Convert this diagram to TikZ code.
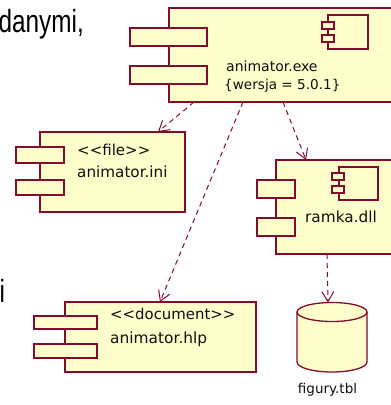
\documentclass[tikz,border=0pt]{standalone}
\usepackage{fontspec}
\setmainfont{DejaVu Sans}
\newfontfamily\arialfont{Liberation Sans}
\usetikzlibrary{arrows.meta}
\definecolor{umlline}{RGB}{130,12,45}
\definecolor{umlfill}{RGB}{255,255,204}
\definecolor{txt}{RGB}{15,15,15}
\tikzset{
  part/.style={draw=umlline, fill=umlfill, line width=1.3pt, rectangle,
    inner sep=0pt, outer sep=0pt, anchor=north west},
  lbl/.style={anchor=base west, inner sep=0pt, text=txt},
  slide/.style={anchor=base west, inner sep=0pt, text=black,
    font=\arialfont\fontsize{32}{36}\selectfont, xscale=0.76},
  dep/.style={draw=umlline, line width=1pt, dash pattern=on 5pt off 4pt,
    -{Straight Barb[length=10pt,width=12pt,line width=1pt]}},
}
\begin{document}
\begin{tikzpicture}[x=1pt,y=-1pt]
\useasboundingbox (0,0) rectangle (391,405);
\fill[white] (0,0) rectangle (391,405);

% surrounding slide text
\node[slide] (danymi) at (-1.5,32.7) {danymi,};
\node[slide] (ichar) at (-0.5,302) {i};

% animator.exe
\node[part, minimum width=240pt, minimum height=94pt] (exe) at (169,8) {};
\node[part, minimum width=77pt, minimum height=18pt] (exep1) at (130,28) {};
\node[part, minimum width=77pt, minimum height=18pt] (exep2) at (130,66) {};
\node[part, minimum width=40pt, minimum height=34pt] (exeicon) at (328,15) {};
\node[part, minimum width=12pt, minimum height=7pt] (exet1) at (322,22) {};
\node[part, minimum width=12pt, minimum height=7pt] (exet2) at (322,35) {};
\node[lbl, font=\fontsize{14}{16}\selectfont] (exename) at (226,71) {animator.exe};
\node[lbl, font=\fontsize{13.6}{16}\selectfont] (exever) at (224,89) {\{wersja = 5.0.1\}};

% animator.ini
\node[part, minimum width=145pt, minimum height=80pt] (ini) at (40,132) {};
\node[part, minimum width=48pt, minimum height=16pt] (inip1) at (16,147) {};
\node[part, minimum width=48pt, minimum height=15pt] (inip2) at (16,180) {};
\node[lbl, font=\fontsize{15}{17}\selectfont] (inistereo) at (77,155) {<{}<file>{}>};
\node[lbl, font=\fontsize{15.2}{17}\selectfont] (ininame) at (77,177) {animator.ini};

% ramka.dll
\node[part, minimum width=130pt, minimum height=94pt] (dll) at (276,160) {};
\node[part, minimum width=38pt, minimum height=18pt] (dllp1) at (257,180) {};
\node[part, minimum width=38pt, minimum height=18pt] (dllp2) at (257,218) {};
\node[part, minimum width=39pt, minimum height=33pt] (dllicon) at (339,167) {};
\node[part, minimum width=12pt, minimum height=7pt] (dllt1) at (332,173) {};
\node[part, minimum width=12pt, minimum height=7pt] (dllt2) at (332,186) {};
\node[lbl, font=\fontsize{15.3}{17}\selectfont] (dllname) at (305,222) {ramka.dll};

% animator.hlp
\node[part, minimum width=191pt, minimum height=70pt] (hlp) at (65,302) {};
\node[part, minimum width=63pt, minimum height=13pt] (hlpp1) at (34,316) {};
\node[part, minimum width=63pt, minimum height=14pt] (hlpp2) at (34,344) {};
\node[lbl, font=\fontsize{14.9}{17}\selectfont] (hlpstereo) at (110,319) {<{}<document>{}>};
\node[lbl, font=\fontsize{15.4}{17}\selectfont] (hlpname) at (110,343) {animator.hlp};

% figury.tbl (database cylinder)
\draw[draw=umlline, fill=umlfill, line width=1.3pt]
  (297,312) -- (297,362) arc[start angle=180, end angle=0, x radius=35, y radius=10]
  -- (367,312);
\draw[draw=umlline, fill=umlfill, line width=1.3pt]
  (332,312) ellipse[x radius=35, y radius=9.5];
\coordinate (tbltop) at (328,302.5);
\node[anchor=base, inner sep=0pt, text=txt, font=\fontsize{13.5}{16}\selectfont]
  (tblname) at (327.5,393) {figury.tbl};

% dependencies
\draw[dep] ([xshift=25pt]exe.south west) -- ([xshift=118pt]ini.north west);
\draw[dep] ([xshift=74pt]exe.south west) -- ([xshift=95pt]hlp.north west);
\draw[dep] ([xshift=114pt]exe.south west) -- ([xshift=30pt]dll.north west);
\draw[dep] ([xshift=51pt]dll.south west) -- (tbltop);
\end{tikzpicture}
\end{document}
